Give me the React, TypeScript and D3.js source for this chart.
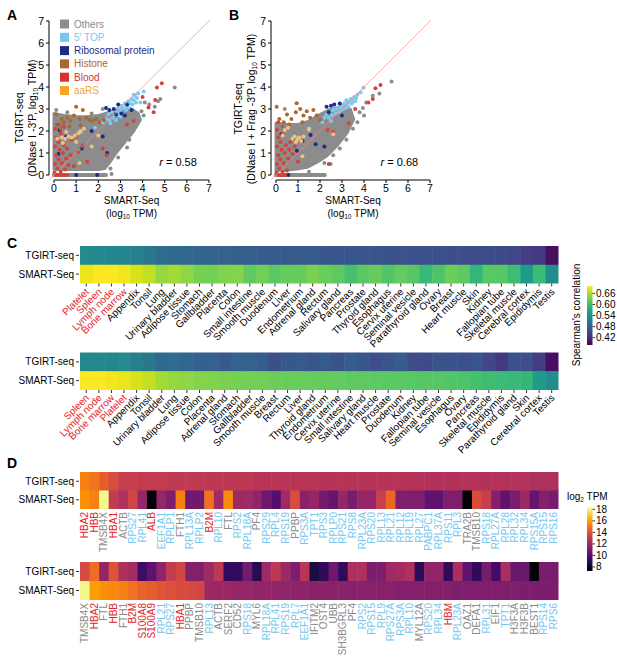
import React from 'react';
import * as d3 from 'd3';

const FONT = '"Liberation Sans", Arial, Helvetica, sans-serif';

// ---------- scatter data (log10 TPM: [SMART-Seq, TGIRT-seq]) ----------
const categories = ['Others', '5\u2032 TOP', 'Ribosomal protein', 'Histone', 'Blood', 'aaRS'];
const catColors = ['#8c8c8c', '#74c7ef', '#1f2a87', '#a5692f', '#d8342c', '#f5a62a'];
const pointColors = ['#8c8c8c', '#7ccbf0', '#1f2a87', '#a86a30', '#d4433a', '#f2c07f'];

const hullA = [[0, 0.25], [0, 2.8], [0.5, 2.7], [1.0, 2.65], [1.5, 2.65], [2.0, 2.7], [2.5, 2.85], [3.0, 3.0], [3.5, 3.0], [3.8, 2.8], [3.9, 2.5], [3.6, 2.0], [3.2, 1.5], [2.8, 1.0], [2.5, 0.55], [2.3, 0.3], [2.0, 0.25], [1.0, 0.25], [0.4, 0.25]];
const zeroRowA = [[0, 0], [2.35, 0]];
const othersA = [[5.45, 3.98], [4.8, 3.45], [4.7, 3.35], [4.55, 3.1], [4.3, 3.2], [4.1, 3.3], [3.95, 2.9], [4.05, 2.7], [3.7, 2.2], [3.4, 1.6], [3.3, 1.25], [2.9, 0.8], [2.55, 0.3], [0.1, 2.95], [0.6, 2.85], [1.7, 2.8], [2.2, 3.0], [3.3, 2.0], [3.55, 2.55], [2.45, 0.9], [2.6, 0.05]];
const topA = [[2.35, 2.55], [2.45, 2.75], [2.5, 2.5], [2.6, 2.85], [2.65, 2.6], [2.7, 2.95], [2.75, 2.7], [2.8, 2.5], [2.85, 2.85], [2.9, 3.05], [2.95, 2.7], [3.0, 2.95], [3.05, 3.15], [3.1, 2.8], [3.15, 3.05], [3.2, 3.25], [3.25, 2.95], [3.3, 3.15], [3.35, 3.35], [3.4, 3.05], [3.45, 3.25], [3.5, 3.45], [3.55, 3.2], [3.6, 3.4], [3.65, 3.6], [3.7, 3.3], [3.75, 3.5], [3.8, 3.7], [3.6, 3.65], [4.05, 3.8], [2.55, 2.35], [3.0, 2.65], [2.2, 2.4], [1.85, 2.15], [1.2, 1.95], [3.9, 3.3]];
const riboA = [[0.25, 2.05], [0.55, 1.75], [0.2, 0.95], [2.2, 1.75], [1.25, 1.2], [2.35, 3.05], [2.5, 2.95], [2.7, 3.0], [2.8, 2.75], [3.05, 2.8], [3.5, 2.95], [3.3, 3.2], [2.9, 3.2], [1.95, 0], [1.0, 0], [2.4, 1.0], [1.7, 2.0], [3.2, 2.7]];
const histoneA = [[0.1, 2.75], [0.25, 2.3], [0.35, 2.55], [0.45, 2.4], [0.6, 2.6], [0.75, 2.45], [0.9, 2.7], [1.0, 3.1], [1.15, 2.55], [1.3, 2.95], [1.45, 2.6], [1.6, 2.5], [1.75, 2.45], [1.9, 2.55], [2.05, 2.4], [2.25, 2.5], [0.3, 2.1], [0.7, 2.2], [1.2, 2.25]];
const bloodA = [[0.02, 0.1], [0.05, 0.5], [0.1, 0.9], [0.05, 1.3], [0.1, 1.7], [0.05, 2.1], [0.15, 0.3], [0.2, 0.7], [0.25, 1.15], [0.2, 1.5], [0.3, 1.9], [0.3, 0.15], [0.35, 0.55], [0.4, 1.0], [0.45, 1.35], [0.5, 0.25], [0.55, 0.75], [0.6, 1.2], [0.65, 0.45], [0.75, 0.9], [0.8, 1.6], [0.9, 0.4], [1.1, 1.05], [1.3, 1.35], [1.0, 1.75], [0.15, 2.3], [0.45, 2.2], [0.1, 0], [0.2, 0], [0.3, 0], [0.4, 0], [0.5, 0], [0.6, 0], [3.3, 2.3], [3.6, 2.45], [4.0, 3.55], [4.27, 3.07], [4.5, 2.85], [4.57, 3.41], [4.65, 3.98], [4.87, 4.17], [1.5, 0.6], [2.2, 1.2], [2.38, 0.9]];
const aarsA = [[0.15, 1.65], [0.35, 1.7], [0.5, 1.65], [0.65, 1.75], [0.8, 1.7], [0.95, 1.8], [1.1, 1.9], [1.2, 2.0], [1.35, 2.1], [0.55, 1.95], [1.0, 1.5], [0.4, 1.45], [2.0, 1.8], [1.7, 1.3], [1.15, 0.55]];

const hullB = [[0, 0.2], [0, 2.35], [0.5, 2.3], [1.0, 2.3], [1.5, 2.45], [2.0, 2.75], [2.47, 2.98], [3.08, 3.13], [3.38, 2.98], [3.53, 2.53], [3.23, 1.92], [2.77, 1.33], [2.32, 0.88], [1.87, 0.58], [1.41, 0.35], [0.96, 0.27], [0.2, 0.2]];
const zeroRowB = [[0, 0], [2.22, 0]];
const othersB = [[5.25, 4.25], [4.7, 3.7], [4.4, 3.6], [4.1, 3.3], [3.95, 3.05], [3.8, 2.85], [4.0, 2.7], [3.7, 2.4], [3.5, 2.1], [3.2, 1.6], [2.9, 1.2], [2.6, 0.9], [2.2, 0.55], [1.5, 0.15], [0.4, 3.0], [2.48, 0.5]];
const topB = [[2.2, 2.6], [2.3, 2.75], [2.4, 2.6], [2.45, 2.85], [2.55, 2.7], [2.6, 2.95], [2.7, 2.8], [2.75, 3.0], [2.85, 2.85], [2.9, 3.1], [2.95, 2.95], [3.0, 3.15], [3.05, 3.0], [3.1, 3.25], [3.15, 3.05], [3.2, 3.2], [3.25, 3.35], [3.3, 3.1], [3.35, 3.3], [3.4, 3.45], [3.45, 3.25], [3.5, 3.4], [3.55, 3.55], [3.6, 3.35], [3.65, 3.5], [3.7, 3.65], [3.2, 3.4], [2.5, 2.45], [3.98, 3.97], [3.85, 3.75], [2.1, 2.4], [1.5, 2.05]];
const riboB = [[2.3, 3.1], [2.5, 3.15], [2.4, 2.85], [2.65, 3.2], [2.9, 3.25], [1.57, 1.82], [1.2, 1.55], [0.9, 1.6], [0.95, 1.1], [2.2, 1.3], [0.56, 0], [1.8, 1.4], [0.25, 1.85], [3.0, 2.7]];
const histoneB = [[0.03, 3.1], [0.15, 2.55], [0.35, 2.4], [0.5, 2.75], [0.7, 2.55], [0.9, 2.85], [0.94, 3.26], [1.1, 3.0], [1.25, 2.7], [1.4, 2.9], [1.55, 2.6], [1.7, 2.95], [1.85, 2.7], [2.0, 2.5], [0.3, 2.2], [0.6, 2.3], [1.2, 2.4]];
const bloodB = [[0.02, 0.1], [0.05, 0.5], [0.1, 0.9], [0.05, 1.3], [0.1, 1.7], [0.05, 2.05], [0.15, 0.3], [0.2, 0.7], [0.25, 1.15], [0.2, 1.5], [0.3, 1.85], [0.3, 0.15], [0.35, 0.55], [0.4, 1.0], [0.45, 1.35], [0.5, 0.2], [0.55, 0.75], [0.6, 1.15], [0.65, 1.5], [0.75, 0.95], [0.85, 1.3], [0.1, 2.4], [0.1, 0], [0.2, 0], [0.3, 0], [0.4, 0], [1.0, 0.6], [2.35, 2.05], [2.6, 1.95], [3.3, 2.35], [4.2, 3.3], [4.4, 3.45], [4.52, 3.94], [4.75, 4.09], [3.6, 3.0], [2.4, 0.5]];
const aarsB = [[0.75, 1.65], [0.85, 1.75], [0.95, 1.6], [1.05, 1.7], [1.15, 1.55], [1.25, 1.75], [0.9, 1.5], [0.4, 2.05], [0.55, 2.15], [1.5, 2.1], [2.6, 1.85], [1.2, 0.85], [0.3, 1.8]];

const axisTicks = [0, 1, 2, 3, 4, 5, 6, 7];

// ---------- panel C: Spearman's correlation per tissue ----------
const tissues = ['Platelet', 'Spleen', 'Lymph node', 'Bone marrow', 'Appendix', 'Tonsil', 'Lung', 'Urinary bladder', 'Adipose tissue', 'Stomach', 'Gallbladder', 'Placenta', 'Colon', 'Small intestine', 'Smooth muscle', 'Duodenum', 'Liver', 'Endometrium', 'Adrenal gland', 'Rectum', 'Salivary gland', 'Pancreas', 'Prostate', 'Thyroid gland', 'Esophagus', 'Cervix uterine', 'Seminal vesicle', 'Parathyroid gland', 'Ovary', 'Breast', 'Heart muscle', 'Skin', 'Kidney', 'Fallopian tube', 'Skeletal muscle', 'Cerebral cortex', 'Epididymis', 'Testis'];
const tgirtCorr = [0.532, 0.530, 0.528, 0.526, 0.515, 0.508, 0.492, 0.488, 0.485, 0.482, 0.480, 0.478, 0.476, 0.474, 0.472, 0.471, 0.470, 0.469, 0.468, 0.467, 0.466, 0.465, 0.464, 0.463, 0.462, 0.461, 0.460, 0.459, 0.458, 0.457, 0.456, 0.455, 0.454, 0.452, 0.447, 0.437, 0.432, 0.392];
const smartCorr = [0.690, 0.700, 0.698, 0.694, 0.680, 0.670, 0.648, 0.655, 0.645, 0.633, 0.632, 0.639, 0.641, 0.622, 0.630, 0.618, 0.626, 0.624, 0.636, 0.627, 0.621, 0.606, 0.619, 0.625, 0.613, 0.623, 0.615, 0.596, 0.610, 0.628, 0.620, 0.590, 0.617, 0.616, 0.601, 0.555, 0.598, 0.535];
const tissuesBySmart = ['Spleen', 'Lymph node', 'Bone marrow', 'Platelet', 'Appendix', 'Tonsil', 'Urinary bladder', 'Lung', 'Adipose tissue', 'Colon', 'Placenta', 'Adrenal gland', 'Stomach', 'Gallbladder', 'Smooth muscle', 'Breast', 'Rectum', 'Liver', 'Thyroid gland', 'Endometrium', 'Cervix uterine', 'Small intestine', 'Salivary gland', 'Heart muscle', 'Prostate', 'Duodenum', 'Kidney', 'Fallopian tube', 'Seminal vesicle', 'Esophagus', 'Ovary', 'Pancreas', 'Skeletal muscle', 'Epididymis', 'Parathyroid gland', 'Skin', 'Cerebral cortex', 'Testis'];
const bloodTissues = ['Platelet', 'Spleen', 'Lymph node', 'Bone marrow'];
const corrTicks = [0.42, 0.48, 0.54, 0.6, 0.66];

// ---------- panel D: log2 TPM of top genes ----------
const genesD1 = ['HBA2', 'HBB', 'TMSB4X', 'HBA1', 'ACTB', 'RPS27', 'RPL41', 'ALB', 'EEF1A1', 'RPLP1', 'FTH1', 'RPL13A', 'RPLP2', 'B2M', 'RPL10', 'FTL', 'RPS2', 'RPL18A', 'PF4', 'RPS29', 'RPL4', 'RPS19', 'PPBP', 'RPS3A', 'TPT1', 'RPS3', 'RPLP0', 'RPS21', 'RPS8', 'RPL23A', 'RPS20', 'RPL13', 'RPL21', 'RPL12', 'RPL19', 'RPL27', 'PABPC1', 'RPL37A', 'RPS11', 'RPL3', 'TRA2B', 'TMSB10', 'RPS18', 'RPL27A', 'RPL28', 'RPL32', 'RPL34', 'RPS15A', 'RPS15', 'RPS16'];
const tgirtD1 = [15.3, 15.0, 14.4, 13.8, 13.2, 13.2, 13.1, 13.1, 13.1, 13.0, 13.0, 13.0, 13.0, 12.9, 12.9, 12.9, 12.9, 12.9, 12.8, 12.8, 12.8, 12.8, 12.8, 12.8, 12.8, 12.7, 12.7, 12.7, 12.7, 12.7, 12.7, 12.7, 12.7, 12.7, 12.6, 12.6, 12.6, 12.6, 12.6, 12.6, 12.6, 12.6, 12.6, 12.6, 12.6, 12.6, 12.6, 12.5, 12.5, 12.5];
const smartD1 = [15.7, 15.3, 18.1, 13.1, 12.5, 13.5, 11.8, 7.5, 11.8, 11.1, 15.3, 10.8, 10.8, 14.9, 12.1, 15.6, 12.0, 12.1, 11.6, 10.7, 10.0, 12.1, 13.8, 11.5, 11.8, 10.9, 10.5, 11.8, 11.0, 11.8, 11.8, 13.3, 14.6, 11.2, 11.2, 11.2, 10.3, 10.3, 11.2, 11.2, 7.4, 13.8, 13.2, 11.3, 10.3, 11.0, 12.0, 10.4, 11.3, 11.0];
const genesD2 = ['TMSB4X', 'HBA2', 'FTL', 'HBB', 'FTH1', 'B2M', 'S100A8', 'S100A9', 'RPL21', 'RPS27', 'HBA1', 'PPBP', 'TMSB10', 'RPL13', 'ACTB', 'SERF2', 'CD52', 'RPS18', 'MYL6', 'RPL18A', 'RPL41', 'RPS19', 'RPL7', 'EEF1A1', 'IFITM2', 'OST4', 'UBB', 'SH3BGRL3', 'PF4', 'RPS2', 'RPS15', 'RPL9', 'RPS27A', 'RPS3A', 'RPL10', 'MYL12A', 'RPS20', 'RPL34', 'HBM', 'RPL23A', 'OAZ1', 'DEFA1', 'RPL31', 'EIF1', 'TPT1', 'H3F3A', 'H3F3B', 'BEST1', 'RPS14', 'RPS6'];
const tgirtD2 = [13.7, 14.8, 11.7, 14.0, 12.5, 12.2, 9.5, 10.3, 11.6, 13.1, 13.6, 11.3, 11.3, 12.1, 12.9, 9.2, 9.2, 10.9, 8.9, 12.1, 12.9, 12.0, 11.1, 12.8, 8.6, 9.1, 10.7, 9.1, 12.5, 12.5, 11.1, 11.1, 12.1, 12.2, 12.5, 9.0, 11.7, 11.7, 9.1, 12.4, 10.3, 9.1, 11.0, 9.6, 12.3, 10.6, 10.6, 7.4, 11.0, 11.0];
const smartD2 = [18.1, 16.0, 15.7, 15.5, 15.3, 14.9, 14.5, 14.4, 14.1, 13.9, 13.8, 13.7, 13.6, 12.0, 11.9, 11.9, 11.8, 11.8, 11.7, 11.7, 11.7, 11.6, 11.6, 11.6, 11.5, 11.5, 11.5, 11.5, 11.4, 11.4, 11.4, 11.4, 11.4, 11.3, 11.3, 11.3, 11.3, 11.3, 11.3, 11.2, 11.2, 11.2, 11.2, 11.2, 11.2, 11.2, 11.1, 11.1, 11.1, 11.1];
const bloodGenes = ['HBA2', 'HBB', 'HBA1', 'ALB', 'B2M', 'S100A8', 'S100A9', 'HBM'];
const otherGenes = ['TMSB4X', 'ACTB', 'FTH1', 'FTL', 'PF4', 'PPBP', 'TRA2B', 'TMSB10', 'SERF2', 'CD52', 'MYL6', 'IFITM2', 'OST4', 'UBB', 'SH3BGRL3', 'MYL12A', 'OAZ1', 'DEFA1', 'EIF1', 'H3F3A', 'H3F3B', 'BEST1'];
const tpmTicks = [8, 10, 12, 14, 16, 18];

const rowNames = ['TGIRT-seq', 'SMART-Seq'];

const corrColor = d3.scaleSequential(d3.interpolateViridis).domain([0.38, 0.70]);
const tpmColor = d3.scaleSequential(d3.interpolateInferno).domain([7.3, 18.4]);

function Scatter({ x0, x1, yAxisX, hull, zeroRow, groups, rText, titleLine2, titleMid, t1x, t2x, legend }: any) {
  const x = d3.scaleLinear().domain([0, 7]).range([x0, x1]);
  const y = d3.scaleLinear().domain([0, 7]).range([175, 21]);
  const area = d3.line<number[]>().x(d => x(d[0])).y(d => y(d[1])).curve(d3.curveLinearClosed);
  const seg = d3.line<number[]>().x(d => x(d[0])).y(d => y(d[1]));
  const xMid = (x0 + x1) / 2;
  return (
    <g fontFamily={FONT}>
      <path d={area(hull) || ''} fill={pointColors[0]} stroke={pointColors[0]} strokeWidth={3} strokeLinejoin="round" />
      <path d={seg(zeroRow) || ''} stroke={pointColors[0]} strokeWidth={4} strokeLinecap="round" />
      {groups.map((pts: number[][], gi: number) => (
        <g key={gi}>
          {pts.map((p, i) => (
            <circle key={i} cx={x(p[0])} cy={y(p[1])} r={2} fill={pointColors[gi]} />
          ))}
        </g>
      ))}
      <path d={seg([[-0.22, -0.22], [7.05, 7.05]]) || ''} stroke="#f08a8a" strokeWidth={0.7} />
      {/* axes */}
      <line x1={yAxisX} x2={yAxisX} y1={y(0)} y2={y(7)} stroke="#000" />
      {axisTicks.map(t => (
        <g key={'y' + t}>
          <line x1={yAxisX - 3} x2={yAxisX} y1={y(t)} y2={y(t)} stroke="#000" />
          <text x={yAxisX - 5} y={y(t)} dy="0.35em" textAnchor="end" fontSize={10.5}>{t}</text>
        </g>
      ))}
      <line x1={x(0)} x2={x(7)} y1={180} y2={180} stroke="#000" />
      {axisTicks.map(t => (
        <g key={'x' + t}>
          <line x1={x(t)} x2={x(t)} y1={180} y2={183} stroke="#000" />
          <text x={x(t)} y={192} textAnchor="middle" fontSize={10.5}>{t}</text>
        </g>
      ))}
      <text x={xMid} y={204} textAnchor="middle" fontSize={10}>SMART-Seq</text>
      <text x={xMid} y={217} textAnchor="middle" fontSize={10}>
        (log<tspan fontSize={6.5} dy={2}>10</tspan><tspan dy={-2}> TPM)</tspan>
      </text>
      <text transform={`translate(${t1x},${titleMid}) rotate(-90)`} textAnchor="middle" fontSize={10.5}>TGIRT-seq</text>
      <text transform={`translate(${t2x},${titleMid}) rotate(-90)`} textAnchor="middle" fontSize={10.5}>
        {titleLine2}log<tspan fontSize={6.5} dy={2}>10</tspan><tspan dy={-2}> TPM)</tspan>
      </text>
      <text x={x(4.75)} y={166} fontSize={11}>
        <tspan fontStyle="italic">r</tspan> = {rText}
      </text>
      {legend && categories.map((c, i) => (
        <g key={c}>
          <rect x={60} y={24 + i * 13.3 - 4.5} width={9} height={9} fill={catColors[i]} />
          <text x={74} y={24 + i * 13.3} dy="0.35em" fontSize={10} fill={catColors[i]}>{c}</text>
        </g>
      ))}
    </g>
  );
}

function CorrHeatmap({ order, top, labelY }: any) {
  const x = d3.scaleBand<string>().domain(order).range([80, 558]);
  const y = d3.scaleBand<string>().domain(rowNames).range([top, top + 37.5]);
  const idx = (t: string) => tissues.indexOf(t);
  return (
    <g fontFamily={FONT}>
      {order.map((t: string) => (
        <g key={t}>
          <rect x={x(t)} y={y('TGIRT-seq')} width={x.bandwidth() + 0.5} height={y.bandwidth() + 0.5} fill={corrColor(tgirtCorr[idx(t)])} />
          <rect x={x(t)} y={y('SMART-Seq')} width={x.bandwidth() + 0.5} height={y.bandwidth()} fill={corrColor(smartCorr[idx(t)])} />
          <line x1={(x(t) || 0) + x.bandwidth() / 2} x2={(x(t) || 0) + x.bandwidth() / 2} y1={top + 37.5} y2={top + 40.5} stroke="#000" strokeWidth={0.8} />
          <text transform={`translate(${(x(t) || 0) + x.bandwidth() / 2 + 1},${labelY}) rotate(-45)`} textAnchor="end" dy="0.35em" fontSize={10} fill={bloodTissues.includes(t) ? '#e0262b' : '#000'}>{t}</text>
        </g>
      ))}
      {rowNames.map(r => (
        <g key={r}>
          <text x={74} y={(y(r) || 0) + y.bandwidth() / 2} dy="0.35em" textAnchor="end" fontSize={10}>{r}</text>
          <line x1={76} x2={79} y1={(y(r) || 0) + y.bandwidth() / 2} y2={(y(r) || 0) + y.bandwidth() / 2} stroke="#000" strokeWidth={0.8} />
        </g>
      ))}
    </g>
  );
}

function GeneHeatmap({ genes, tg, sm, top, h }: any) {
  const x = d3.scaleBand<string>().domain(genes).range([80, 558]);
  const y = d3.scaleBand<string>().domain(rowNames).range([top, top + h]);
  const labelColor = (g: string) => bloodGenes.includes(g) ? '#e0262b' : otherGenes.includes(g) ? '#8a8a8a' : '#74c7ef';
  return (
    <g fontFamily={FONT}>
      {genes.map((g: string, i: number) => (
        <g key={g}>
          <rect x={x(g)} y={y('TGIRT-seq')} width={x.bandwidth() + 0.5} height={y.bandwidth() + 0.5} fill={tpmColor(tg[i])} />
          <rect x={x(g)} y={y('SMART-Seq')} width={x.bandwidth() + 0.5} height={y.bandwidth()} fill={tpmColor(sm[i])} />
          <text transform={`translate(${(x(g) || 0) + x.bandwidth() / 2},${top + h + 3}) rotate(-90)`} textAnchor="end" dy="0.35em" fontSize={10} fill={labelColor(g)}>{g}</text>
        </g>
      ))}
      {rowNames.map(r => (
        <g key={r}>
          <text x={74} y={(y(r) || 0) + y.bandwidth() / 2} dy="0.35em" textAnchor="end" fontSize={10}>{r}</text>
          <line x1={76} x2={79} y1={(y(r) || 0) + y.bandwidth() / 2} y2={(y(r) || 0) + y.bandwidth() / 2} stroke="#000" strokeWidth={0.8} />
        </g>
      ))}
    </g>
  );
}

function ColorBar({ id, interp, domain, y0, y1, ticks, fmt }: any) {
  const s = d3.scaleLinear().domain(domain).range([y1, y0]);
  const stops = d3.range(0, 1.0001, 0.1);
  return (
    <g fontFamily={FONT}>
      <defs>
        <linearGradient id={id} x1="0" y1="1" x2="0" y2="0">
          {stops.map(t => <stop key={t} offset={t} stopColor={interp(t)} />)}
        </linearGradient>
      </defs>
      <rect x={587} y={y0} width={5.5} height={y1 - y0} fill={`url(#${id})`} />
      {ticks.map((t: number) => (
        <g key={t}>
          <line x1={592.5} x2={595} y1={s(t)} y2={s(t)} stroke="#000" strokeWidth={0.8} />
          <text x={596} y={s(t)} dy="0.35em" fontSize={10}>{fmt(t)}</text>
        </g>
      ))}
    </g>
  );
}

export default function App() {
  return (
    <svg width={617} height={657} style={{ position: 'absolute', left: 0, top: 0, background: '#fff' }}>
      <rect width={617} height={657} fill="#fff" />
      <g fontFamily={FONT} fontWeight="bold" fontSize={14}>
        <text x={7} y={20}>A</text>
        <text x={229} y={20}>B</text>
        <text x={7} y={248}>C</text>
        <text x={7} y={468}>D</text>
      </g>
      <Scatter x0={54} x1={209} yAxisX={49} hull={hullA} zeroRow={zeroRowA}
        groups={[othersA, topA, riboA, histoneA, bloodA, aarsA]}
        rText="0.58" titleLine2={'(DNase I -3\u2032P, '} titleMid={118} t1x={23} t2x={36} legend />
      <Scatter x0={276} x1={430} yAxisX={271} hull={hullB} zeroRow={zeroRowB}
        groups={[othersB, topB, riboB, histoneB, bloodB, aarsB]}
        rText="0.68" titleLine2={'(DNase I + Frag -3\u2032P, '} titleMid={109} t1x={242} t2x={255} />

      <CorrHeatmap order={tissues} top={246} labelY={290} />
      <CorrHeatmap order={tissuesBySmart} top={352.5} labelY={396} />
      <ColorBar id="cbC" interp={d3.interpolateViridis} domain={[0.38, 0.70]} y0={286} y1={345} ticks={corrTicks} fmt={(t: number) => t.toFixed(2)} />
      <text transform="translate(580,315) rotate(-90)" textAnchor="middle" fontSize={10} fontFamily={FONT}>Spearman's correlation</text>

      <GeneHeatmap genes={genesD1} tg={tgirtD1} sm={smartD1} top={472} h={37} />
      <GeneHeatmap genes={genesD2} tg={tgirtD2} sm={smartD2} top={562} h={38} />
      <ColorBar id="cbD" interp={d3.interpolateInferno} domain={[7.3, 18.4]} y0={507} y1={571} ticks={tpmTicks} fmt={(t: number) => String(t)} />
      <text x={567} y={500} fontSize={10} fontFamily={FONT}>
        log<tspan fontSize={6.5} dy={2}>2</tspan><tspan dy={-2}> TPM</tspan>
      </text>
    </svg>
  );
}
